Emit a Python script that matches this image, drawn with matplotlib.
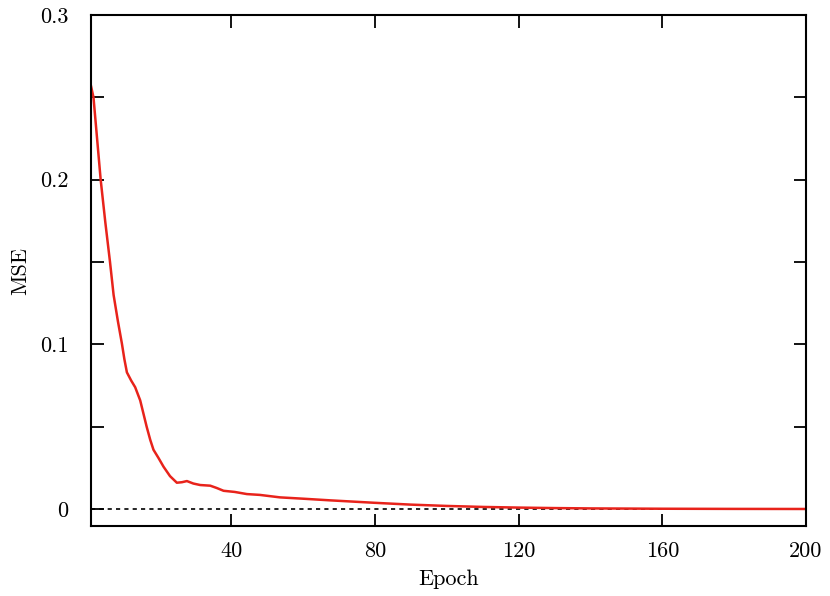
import matplotlib
matplotlib.use("Agg")
import matplotlib.pyplot as plt
import numpy as np

plt.rcParams['font.family'] = ['cmr10', 'DejaVu Serif']
plt.rcParams['mathtext.fontset'] = 'cm'
plt.rcParams['axes.formatter.use_mathtext'] = True

epoch = [1, 1.7, 2.7, 3.7, 5.0, 6.3, 7.3, 8.5, 9.6, 10.3, 11.0, 12.2, 13.3, 14.7, 15.6, 16.5, 17.5,
         18.4, 19.8, 21.2, 23.0, 24.9, 26.3, 27.7, 29.5, 31.4, 34.2, 36.0, 37.9, 41.0, 44.4,
         48.0, 53.6, 60.0, 67.5, 75, 80, 90, 100, 110, 120, 130, 140, 160, 180, 200]
mse = [0.257, 0.25, 0.225, 0.200, 0.174, 0.150, 0.130, 0.114, 0.1006, 0.091, 0.083, 0.078,
       0.074, 0.066, 0.058, 0.050, 0.042, 0.036, 0.031, 0.0257, 0.020, 0.016, 0.0163, 0.017,
       0.0155, 0.0146, 0.0142, 0.0128, 0.0111, 0.0104, 0.0091, 0.0086, 0.0071, 0.0063, 0.0053,
       0.0044, 0.0038, 0.0027, 0.0019, 0.0013, 0.0009, 0.0006, 0.0004, 0.0002, 0.0001, 0.00005]

xticks = [40, 80, 120, 160, 200]
xminor = [20, 60, 100, 140, 180]
yticks = [0, 0.1, 0.2, 0.3]
ylabels = ['0', '0.1', '0.2', '0.3']
yminor = [0.05, 0.15, 0.25]

fig = plt.figure(figsize=(8.3, 5.96), dpi=100)
ax = fig.add_axes([0.1096, 0.1174, 0.8615, 0.8574])

ax.axhline(0, color='black', lw=1.2, ls=(0, (2.5, 2.5)), zorder=1)
ax.plot(epoch, mse, color='#e8231b', lw=1.8, zorder=2)

ax.set_xlim(1, 200)
ax.set_ylim(-0.0103, 0.3)
ax.set_xticks(xticks)
ax.set_xticklabels([str(v) for v in xticks])
ax.set_yticks(yticks)
ax.set_yticklabels(ylabels)
ax.set_yticks(yminor, minor=True)
ax.set_xticks(xminor, minor=True)

ax.tick_params(axis='both', which='major', direction='in', length=9, width=1.3,
               top=True, right=True, labelsize=16)
ax.tick_params(axis='x', which='major', pad=11)
ax.tick_params(axis='y', which='major', pad=16)
ax.tick_params(axis='y', which='minor', direction='in', length=9, width=1.3, right=True)
ax.tick_params(axis='x', which='minor', length=0)

for s in ax.spines.values():
    s.set_linewidth(1.5)

ax.set_xlabel('Epoch', fontsize=16, labelpad=6)
ax.set_ylabel('MSE', fontsize=16, labelpad=7)

fig.savefig('out.png', dpi=100)
